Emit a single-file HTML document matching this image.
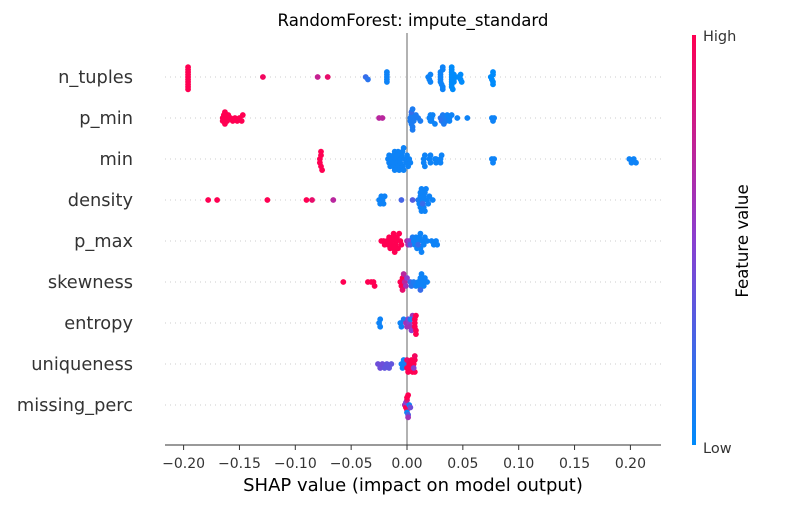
<!DOCTYPE html>
<html><head><meta charset="utf-8"><style>
body{margin:0;background:#fff;font-family:"Liberation Sans","DejaVu Sans",sans-serif}
</style></head><body>
<svg id="chart" width="800" height="509" xmlns="http://www.w3.org/2000/svg" font-family="DejaVu Sans, Liberation Sans, sans-serif">
<defs><linearGradient id="cb" x1="0" y1="1" x2="0" y2="0"><stop offset="0" stop-color="#008bfb"/><stop offset="0.5" stop-color="#8a3fd0"/><stop offset="1" stop-color="#ff0052"/></linearGradient></defs>
<text x="413" y="26" text-anchor="middle" font-size="16.6" fill="#000">RandomForest: impute_standard</text>
<g id="grid"></g>
<line id="zl" y1="33" y2="445" stroke="#999" stroke-width="1.5"/>
<g id="dots"></g>
<line x1="165" x2="661" y1="445" y2="445" stroke="#333" stroke-width="1"/>
<g id="xt"></g>
<text x="413" y="491" text-anchor="middle" font-size="18" fill="#000">SHAP value (impact on model output)</text>
<rect x="692" y="35" width="4" height="410" fill="url(#cb)"/>
<text x="703" y="41" font-size="14.5" fill="#333">High</text>
<text x="703" y="453" font-size="14.5" fill="#333">Low</text>
<text transform="translate(748,241) rotate(-90)" text-anchor="middle" font-size="16.6" fill="#000">Feature value</text>
</svg>
<script>
const features=["n_tuples","p_min","min","density","p_max","skewness","entropy","uniqueness","missing_perc"];
const xTicks=[-0.20,-0.15,-0.10,-0.05,0.00,0.05,0.10,0.15,0.20];
const xTickLabels=["\u22120.20","\u22120.15","\u22120.10","\u22120.05","0.00","0.05","0.10","0.15","0.20"];
const shapVals=[
[-0.196,-0.196,-0.196,-0.196,-0.196,-0.196,-0.196,-0.196,-0.196,-0.196,-0.129,-0.080,-0.071,-0.037,-0.035,-0.018,-0.018,-0.018,-0.018,-0.018,0.019,0.020,0.021,0.021,0.030,0.030,0.030,0.030,0.030,0.031,0.032,0.032,0.032,0.032,0.040,0.040,0.040,0.040,0.040,0.040,0.040,0.040,0.040,0.041,0.042,0.042,0.042,0.042,0.046,0.048,0.048,0.049,0.075,0.076,0.077,0.077,0.077,0.077],
[-0.165,-0.165,-0.164,-0.163,-0.163,-0.162,-0.161,-0.160,-0.158,-0.156,-0.154,-0.152,-0.150,-0.148,-0.147,-0.025,-0.022,0.003,0.003,0.004,0.004,0.004,0.005,0.005,0.005,0.006,0.006,0.008,0.010,0.012,0.020,0.021,0.021,0.022,0.022,0.023,0.025,0.030,0.031,0.032,0.033,0.034,0.035,0.036,0.038,0.038,0.040,0.045,0.054,0.076,0.077,0.078],
[-0.078,-0.078,-0.077,-0.077,-0.077,-0.076,-0.017,-0.016,-0.016,-0.015,-0.014,-0.013,-0.012,-0.012,-0.011,-0.010,-0.009,-0.008,-0.008,-0.007,-0.006,-0.005,-0.004,-0.004,-0.003,-0.002,-0.001,0.000,0.001,0.002,0.003,-0.011,-0.009,-0.006,-0.003,0.015,0.015,0.016,0.016,0.020,0.021,0.021,0.025,0.026,0.026,0.030,0.030,0.031,0.076,0.077,0.078,0.199,0.201,0.203,0.205],
[-0.178,-0.170,-0.125,-0.090,-0.085,-0.066,-0.025,-0.024,-0.023,-0.022,-0.021,-0.020,-0.005,0.005,0.010,0.011,0.012,0.012,0.013,0.013,0.014,0.015,0.015,0.016,0.017,0.018,0.019,0.020,0.014,0.016,0.012,0.023],
[-0.023,-0.021,-0.020,-0.018,-0.017,-0.016,-0.015,-0.014,-0.013,-0.012,-0.011,-0.010,-0.010,-0.009,-0.008,-0.007,-0.006,-0.005,-0.012,-0.014,0.000,0.001,0.002,0.003,0.005,0.006,0.007,0.008,0.009,0.010,0.011,0.012,0.013,0.014,0.015,0.016,0.018,0.010,0.012,0.022,0.024,0.026,0.027],
[-0.057,-0.035,-0.032,-0.030,-0.029,-0.006,-0.005,-0.004,-0.003,-0.002,-0.001,0.000,-0.004,0.003,0.004,0.006,0.008,0.010,0.011,0.012,0.013,0.015,0.016,0.018,0.012,0.014],
[-0.025,-0.024,-0.024,-0.006,-0.005,-0.003,-0.001,0.000,0.001,0.002,0.003,0.004,0.005,0.003,0.007,0.007,0.007,0.008,0.008,0.008],
[-0.026,-0.024,-0.022,-0.020,-0.018,-0.016,-0.014,-0.005,-0.004,-0.003,-0.001,0.000,0.000,0.001,0.002,0.003,0.004,0.005,0.006,0.007,0.007,0.007,0.006],
[-0.002,-0.001,-0.001,0.000,0.000,0.000,0.001,0.001,0.002,0.003,0.000,0.001]
];
const featVals=[
[1,1,1,1,1,1,1,1,1,1,0.95,0.75,0.9,0.2,0.15,0.05,0.05,0.05,0.05,0.05,0.05,0.05,0.05,0.05,0.05,0.05,0.05,0.05,0.05,0.05,0.05,0.05,0.05,0.05,0,0,0,0,0,0,0,0,0,0,0,0,0,0,0,0,0,0,0,0,0,0,0,0],
[1,1,1,1,1,1,1,1,1,1,1,1,1,1,1,0.7,0.7,0.1,0.1,0.1,0.1,0.2,0.1,0.1,0.1,0.1,0.1,0.1,0.1,0.1,0.05,0.05,0.05,0.05,0.05,0.05,0.05,0.15,0.15,0.1,0.1,0.1,0.1,0.05,0.05,0.05,0.05,0.05,0.05,0.05,0.05,0.05],
[1,1,1,1,1,1,0.05,0.05,0.05,0.05,0.05,0.05,0.05,0.05,0.05,0.05,0.05,0.05,0.05,0.05,0.05,0.05,0.05,0.05,0.05,0.05,0.05,0.05,0.05,0.05,0.05,0.05,0.05,0.05,0.05,0.05,0.05,0.05,0.05,0.05,0.05,0.05,0.05,0.05,0.05,0.05,0.05,0.05,0.05,0.05,0.05,0.05,0.05,0.05,0.05],
[1,1,1,1,0.9,0.7,0.05,0.05,0.05,0.05,0.05,0.05,0.25,0.3,0.1,0.05,0.05,0.05,0.05,0.05,0.05,0.05,0.05,0.05,0.05,0.05,0.05,0.05,0.2,0.05,0.05,0.05],
[1,1,1,1,1,1,1,1,1,1,1,1,1,1,1,1,1,1,1,1,0.65,0.6,0.5,0.3,0.1,0.05,0.05,0.05,0.05,0.05,0.05,0.05,0.05,0.05,0.05,0.05,0.05,0.2,0.05,0.05,0.05,0.05,0.05],
[1,1,1,1,1,1,1,1,0.7,0.7,0.6,0.5,0.9,0.2,0.15,0.1,0.05,0.05,0.05,0.05,0.05,0.05,0.05,0.05,0.2,0.05],
[0.05,0.05,0.05,0.05,0.05,0.1,0.6,0.6,0.5,0.5,0.6,0.5,0.6,0.1,1,1,1,1,1,1],
[0.4,0.4,0.4,0.35,0.35,0.35,0.35,0.05,0.05,0.05,0.1,1,0.9,1,1,1,1,1,1,1,1,0.95,0.5],
[0.6,1,0.5,1,0.8,0.05,0.3,1,0.05,0.4,1,0.6]
];
const NS="http://www.w3.org/2000/svg";
const x0=407, xScale=1117;
function xPos(v){return x0+v*xScale;}
function rowY(i){return 77+41*i;}
function color(t){
  const a=[0,139,251], m=[138,63,208], b=[255,0,82];
  let c;
  if(t<0.5){const k=t/0.5;c=a.map((v,j)=>Math.round(v+(m[j]-v)*k));}
  else{const k=(t-0.5)/0.5;c=m.map((v,j)=>Math.round(v+(b[j]-v)*k));}
  return "rgb("+c.join(",")+")";
}
document.getElementById('zl').setAttribute('x1',xPos(0));
document.getElementById('zl').setAttribute('x2',xPos(0));
const grid=document.getElementById('grid'), dots=document.getElementById('dots'), xt=document.getElementById('xt');
const binW=0.004;
features.forEach((f,i)=>{
  const y=rowY(i);
  const gl=document.createElementNS(NS,'line');
  
  
  gl.setAttribute('x1',165);gl.setAttribute('x2',661);gl.setAttribute('y1',y);gl.setAttribute('y2',y);
  gl.setAttribute('stroke','#ccc');gl.setAttribute('stroke-dasharray','1,4');
  grid.appendChild(gl);
  const tl=document.createElementNS(NS,'text');
  
  
  tl.setAttribute('x',133);tl.setAttribute('y',y+6);tl.setAttribute('text-anchor','end');
  tl.setAttribute('font-size','17.8');tl.setAttribute('fill','#333');tl.textContent=f;
  grid.appendChild(tl);
  const s=shapVals[i], fv=featVals[i];
  const idx=s.map((_,k)=>k).sort((a,b)=>s[a]-s[b]);
  const q=s.map(v=>Math.round(v/binW));
  const ys=new Array(s.length).fill(0);
  let layer=0,last=null;
  idx.forEach(k=>{
    if(q[k]!==last){layer=0;}
    ys[k]=Math.ceil(layer/2)*((layer%2)*2-1);
    layer++;last=q[k];
  });
  const maxy=Math.max(...ys.map(Math.abs))+1;
  const sc=Math.min(4,0.9*(0.4/maxy)*41);
  s.forEach((v,k)=>{
    const c=document.createElementNS(NS,'circle');
    
    
    c.setAttribute('cx',xPos(v));c.setAttribute('cy',y+ys[k]*sc);c.setAttribute('r',2.9);
    c.setAttribute('fill',color(fv[k]));
    dots.appendChild(c);
  });
});
xTicks.forEach((t,i)=>{
  const x=xPos(t);
  const l=document.createElementNS(NS,'line');
  
  
  l.setAttribute('x1',x);l.setAttribute('x2',x);l.setAttribute('y1',445);l.setAttribute('y2',450);l.setAttribute('stroke','#333');
  xt.appendChild(l);
  const tx=document.createElementNS(NS,'text');
  
  
  tx.setAttribute('x',x);tx.setAttribute('y',468);tx.setAttribute('text-anchor','middle');
  tx.setAttribute('font-size','14');tx.setAttribute('fill','#333');tx.textContent=xTickLabels[i];
  xt.appendChild(tx);
});
</script>
</body></html>
